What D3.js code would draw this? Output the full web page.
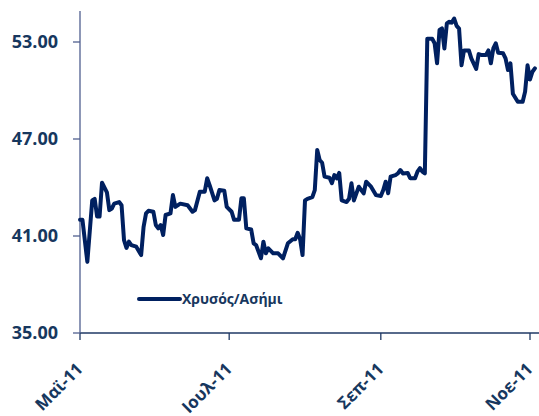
<!DOCTYPE html>
<html><head><meta charset="utf-8">
<script src="https://cdn.jsdelivr.net/npm/d3@7"></script>
<style>html,body{margin:0;padding:0;background:#fff;}svg{display:block;}</style>
</head><body>
<svg id="chart" width="539" height="416"></svg>
<script>
const dates = ["2011-05-01","2011-05-02","2011-05-04","2011-05-06","2011-05-07","2011-05-08","2011-05-09","2011-05-10","2011-05-12","2011-05-13","2011-05-14","2011-05-15","2011-05-17","2011-05-18","2011-05-19","2011-05-20","2011-05-21","2011-05-22","2011-05-24","2011-05-26","2011-05-27","2011-05-28","2011-05-29","2011-05-31","2011-06-01","2011-06-02","2011-06-03","2011-06-04","2011-06-05","2011-06-07","2011-06-08","2011-06-09","2011-06-11","2011-06-14","2011-06-16","2011-06-17","2011-06-19","2011-06-21","2011-06-22","2011-06-23","2011-06-25","2011-06-26","2011-06-27","2011-06-29","2011-06-30","2011-07-02","2011-07-03","2011-07-05","2011-07-06","2011-07-07","2011-07-08","2011-07-10","2011-07-11","2011-07-12","2011-07-14","2011-07-15","2011-07-16","2011-07-17","2011-07-19","2011-07-21","2011-07-23","2011-07-25","2011-07-27","2011-07-28","2011-07-29","2011-07-30","2011-07-31","2011-08-01","2011-08-02","2011-08-04","2011-08-05","2011-08-06","2011-08-07","2011-08-08","2011-08-09","2011-08-11","2011-08-12","2011-08-13","2011-08-14","2011-08-15","2011-08-16","2011-08-18","2011-08-19","2011-08-20","2011-08-21","2011-08-23","2011-08-24","2011-08-25","2011-08-26","2011-08-28","2011-08-30","2011-09-01","2011-09-02","2011-09-03","2011-09-04","2011-09-05","2011-09-07","2011-09-08","2011-09-09","2011-09-10","2011-09-12","2011-09-13","2011-09-15","2011-09-16","2011-09-17","2011-09-18","2011-09-19","2011-09-20","2011-09-22","2011-09-23","2011-09-24","2011-09-25","2011-09-26","2011-09-27","2011-09-28","2011-09-29","2011-09-30","2011-10-01","2011-10-02","2011-10-03","2011-10-04","2011-10-05","2011-10-07","2011-10-08","2011-10-10","2011-10-11","2011-10-12","2011-10-14","2011-10-15","2011-10-16","2011-10-17","2011-10-18","2011-10-19","2011-10-21","2011-10-22","2011-10-23","2011-10-24","2011-10-25","2011-10-27","2011-10-29","2011-10-30","2011-10-31","2011-11-01","2011-11-02","2011-11-03"];
const ratio = [42.0,42.0,39.4,43.2,43.3,42.2,42.2,44.3,43.7,42.6,42.7,43.0,43.1,42.9,40.75,40.26,40.65,40.44,40.34,39.82,41.57,42.4,42.56,42.5,41.68,41.47,41.68,41.06,42.3,42.4,43.53,42.8,43.0,42.9,42.5,42.6,43.74,43.74,44.57,44.15,43.2,43.3,43.84,43.8,42.8,42.5,42.0,42.0,43.33,43.33,41.47,41.4,40.55,40.44,39.62,40.65,39.93,40.24,39.93,39.93,39.62,40.55,40.8,40.8,41.2,40.8,39.82,43.2,43.3,43.4,43.84,46.32,45.7,45.53,44.67,44.6,44.26,44.77,44.57,44.9,43.2,43.1,43.3,44.26,43.2,44.05,43.84,43.64,44.36,44.05,43.53,43.47,43.84,44.36,43.64,44.67,44.77,44.87,45.08,44.87,44.9,44.57,44.57,44.98,45.2,44.98,44.87,53.2,53.2,52.92,51.68,53.74,53.84,52.6,54.15,54.25,54.2,54.45,54.0,53.83,51.56,52.48,52.48,51.99,51.33,52.25,52.2,52.2,52.48,51.68,52.6,52.92,52.34,52.3,51.99,51.27,51.68,49.8,49.3,49.3,49.93,51.56,50.68,51.16,51.37];
const yTicks = [35, 41, 47, 53];
const xTickDates = ["2011-05-01","2011-07-01","2011-09-01","2011-11-01"];
const xTickLabels = ["Μαϊ-11","Ιουλ-11","Σεπ-11","Νοε-11"];
const seriesName = "Χρυσός/Ασήμι";

const parse = d3.timeParse("%Y-%m-%d");
const data = dates.map((d,i)=>({date: parse(d), value: ratio[i]}));

const svg = d3.select("#chart");
const mLeft = 80, mBottom = 333, mTop = 11;
const x = d3.scaleTime().domain([parse("2011-05-01"), parse("2011-11-01")]).range([mLeft, 530]);
const y = d3.scaleLinear().domain([35, 55]).range([mBottom, mBottom - 20*97/6]);

const labelColor = "#17375E";
const font = "'Open Sans', 'Noto Sans', sans-serif";

// X axis
const xAxisG = svg.append("g").attr("transform", `translate(0,${mBottom})`);
xAxisG.append("line").attr("x1", mLeft).attr("x2", 539).attr("y1", 0).attr("y2", 0)
  .attr("stroke", "#1F3864").attr("stroke-width", 1.3);
xTickDates.forEach((d,i)=>{
  const px = x(parse(d));
  xAxisG.append("line").attr("x1", px).attr("x2", px).attr("y1", 0).attr("y2", 7)
    .attr("stroke", "#1F3864").attr("stroke-width", 1.3);
  xAxisG.append("text")
    .attr("transform", `translate(${px+4},${37}) rotate(-45)`)
    .attr("text-anchor", "end")
    .attr("font-family", font).attr("font-weight", "bold").attr("font-size", 17)
    .attr("fill", labelColor)
    .text(xTickLabels[i]);
});

// Y axis
const yAxisG = svg.append("g");
yAxisG.append("line").attr("x1", mLeft).attr("x2", mLeft).attr("y1", mTop).attr("y2", mBottom)
  .attr("stroke", "#4F5F8F").attr("stroke-width", 1.3);
yTicks.forEach(t=>{
  const py = y(t);
  yAxisG.append("line").attr("x1", mLeft-7).attr("x2", mLeft).attr("y1", py).attr("y2", py)
    .attr("stroke", "#4F5F8F").attr("stroke-width", 1.3);
  yAxisG.append("text")
    .attr("x", 58).attr("y", py).attr("dy", "0.36em")
    .attr("text-anchor", "end")
    .attr("font-family", font).attr("font-weight", "bold").attr("font-size", 18)
    .attr("fill", labelColor)
    .text(d3.format(".2f")(t));
});

// Line
const line = d3.line().x(d=>x(d.date)).y(d=>y(d.value)).curve(d3.curveLinear);
svg.append("path").datum(data).attr("d", line)
  .attr("fill", "none").attr("stroke", "#002060").attr("stroke-width", 4)
  .attr("stroke-linejoin", "round").attr("stroke-linecap", "round");

// Legend
svg.append("line").attr("x1", 139).attr("x2", 180).attr("y1", 299).attr("y2", 299)
  .attr("stroke", "#002060").attr("stroke-width", 4).attr("stroke-linecap", "round");
svg.append("text").attr("x", 182).attr("y", 299).attr("dy", "0.35em")
  .attr("font-family", font).attr("font-weight", "bold").attr("font-size", 14)
  .attr("fill", labelColor).text(seriesName);
</script>
</body></html>
